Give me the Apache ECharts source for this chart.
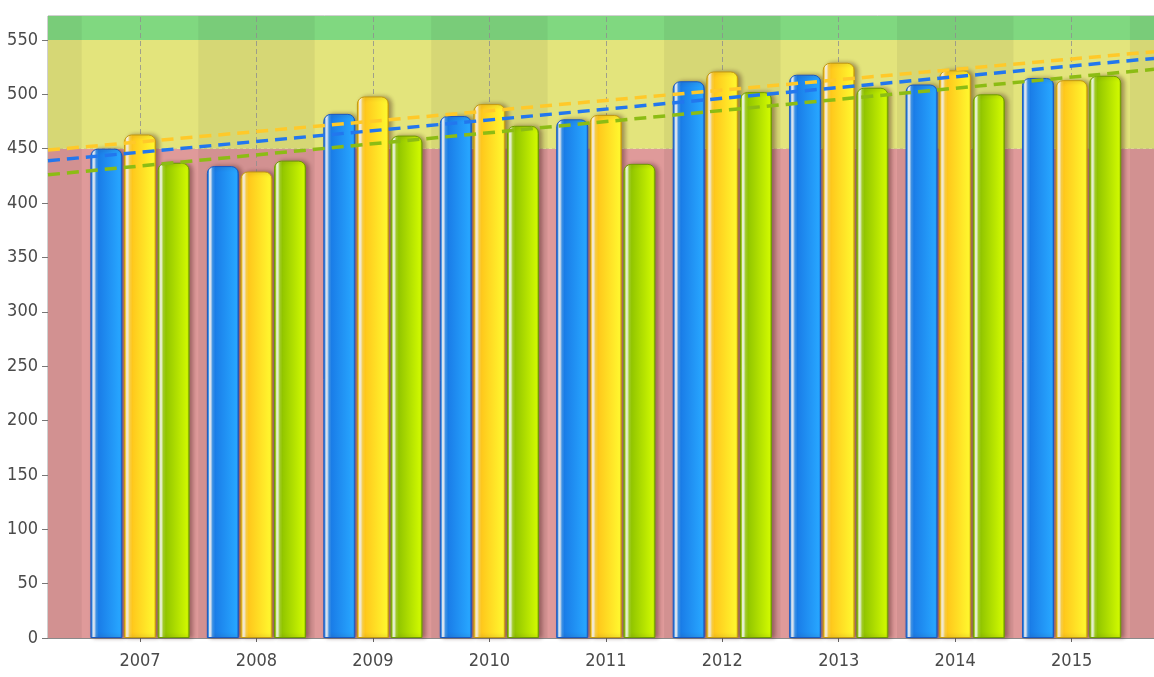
<!DOCTYPE html>
<html>
<head>
<meta charset="utf-8">
<script src="https://cdn.jsdelivr.net/npm/echarts@6/dist/echarts.min.js"></script>
<style>
html, body { margin: 0; padding: 0; background: #fff; }
#chart { width: 1154px; height: 677px; }
</style>
</head>
<body>
<div id="chart"></div>
<script>
// 数据
var years = [2007, 2008, 2009, 2010, 2011, 2012, 2013, 2014, 2015];
var blueValues = [450, 434, 482, 480, 477, 512, 518, 509, 515];
var yellowValues = [463, 429, 498, 491, 481, 521, 529, 522, 513];
var greenValues = [437, 439, 462, 471, 436, 502, 506, 500, 517];
// 趋势线两端的值
var blueTrend = [438.9, 533];
var yellowTrend = [448.7, 539.2];
var greenTrend = [426, 523];
// 坐标轴范围
var xRange = [2006.21, 2015.707];
var yMax = 572;
// 背景色带
var bands = [
    {from: 0, to: 450, color: '#df9a9a'},
    {from: 450, to: 550, color: '#e3e47c'},
    {from: 550, to: yMax, color: '#80d880'}
];

function pairs(values) {
    return values.map(function (v, i) {
        return [years[i], v];
    });
}

function barGradient(edge, shine, mid, dark, light) {
    return new echarts.graphic.LinearGradient(0, 0, 1, 0, [
        {offset: 0, color: edge},
        {offset: 0.05, color: mid},
        {offset: 0.08, color: shine},
        {offset: 0.12, color: shine},
        {offset: 0.18, color: mid},
        {offset: 0.26, color: dark},
        {offset: 0.93, color: light},
        {offset: 1, color: edge}
    ]);
}

function barSeries(name, values, grad, border) {
    return {
        name: name,
        type: 'bar',
        data: pairs(values),
        barWidth: 32,
        barGap: '5%',
        z: 3,
        itemStyle: {
            color: grad,
            borderColor: border,
            borderWidth: 1,
            borderRadius: [7, 7, 0, 0],
            shadowColor: 'rgba(60,20,20,0.4)',
            shadowBlur: 4,
            shadowOffsetX: 3,
            shadowOffsetY: 0
        }
    };
}

function trendSeries(name, ends, color) {
    return {
        name: name,
        type: 'line',
        data: [[xRange[0], ends[0]], [xRange[1], ends[1]]],
        symbol: 'none',
        silent: true,
        z: 5,
        lineStyle: {color: color, width: 3.5, type: [12, 7]}
    };
}

// 竖条纹：偶数年份和两端较暗
var stripes = [[{xAxis: xRange[0]}, {xAxis: years[0] - 0.5}]];
years.forEach(function (y, i) {
    if (i % 2 === 1) {
        stripes.push([{xAxis: y - 0.5}, {xAxis: y + 0.5}]);
    }
});
stripes.push([{xAxis: years[years.length - 1] + 0.5}, {xAxis: xRange[1]}]);

var chart = echarts.init(document.getElementById('chart'));
var labelFont = "'Liberation Sans Narrow', 'DejaVu Sans Condensed', sans-serif";
chart.setOption({
    animation: false,
    grid: {
        left: 48,
        right: 0,
        top: 16,
        bottom: 39,
        show: true,
        backgroundColor: 'transparent',
        borderColor: '#a0a0a0',
        borderWidth: 1
    },
    xAxis: {
        type: 'value',
        min: xRange[0],
        max: xRange[1],
        axisLine: {show: true, lineStyle: {color: '#8a8a8a', width: 1}},
        axisTick: {show: true, length: 4, customValues: years, lineStyle: {color: '#666'}},
        axisLabel: {
            customValues: years,
            formatter: function (v) {
                return String(v);
            },
            color: '#4a4a4a',
            fontFamily: labelFont,
            fontSize: 18,
            margin: 14
        },
        splitLine: {show: false}
    },
    yAxis: {
        type: 'value',
        min: 0,
        max: yMax,
        interval: 50,
        axisLine: {show: false},
        axisTick: {show: true, length: 6, lineStyle: {color: '#777'}},
        axisLabel: {
            color: '#4a4a4a',
            fontFamily: labelFont,
            fontSize: 18,
            margin: 10,
            showMaxLabel: false
        },
        splitLine: {show: true, lineStyle: {color: '#8f8f8f', type: [3, 3], width: 1, opacity: 0.8}}
    },
    series: [
        {
            name: 'bands',
            type: 'line',
            data: [],
            silent: true,
            z: 0,
            markArea: {
                silent: true,
                z: 0,
                data: bands.map(function (b) {
                    return [{yAxis: b.from, itemStyle: {color: b.color}}, {yAxis: b.to}];
                })
            }
        },
        {
            name: 'stripes',
            type: 'line',
            data: [],
            silent: true,
            z: 1,
            markArea: {
                silent: true,
                z: 1,
                itemStyle: {color: 'rgba(0,0,0,0.055)'},
                data: stripes
            },
            // 竖向网格线
            markLine: {
                silent: true,
                z: 1,
                symbol: 'none',
                label: {show: false},
                lineStyle: {color: '#8f8f8f', type: [5, 3], width: 1, opacity: 0.8},
                data: years.map(function (y) {
                    return {xAxis: y};
                })
            }
        },
        barSeries('blue', blueValues, barGradient('#1a5cc8', '#e4f2ff', '#3f98ee', '#1a7de8', '#27a6ff'), '#1b58c0'),
        barSeries('yellow', yellowValues, barGradient('#d4a000', '#fff8dc', '#ffd54a', '#ffc81c', '#fff62e'), '#c49a10'),
        barSeries('green', greenValues, barGradient('#7aa800', '#f0ffdc', '#a6d42c', '#92c600', '#cff800'), '#6f9c00'),
        trendSeries('blueTrend', blueTrend, '#2277ee'),
        trendSeries('yellowTrend', yellowTrend, '#ffc929'),
        trendSeries('greenTrend', greenTrend, '#8cbc14')
    ]
});
</script>
</body>
</html>
